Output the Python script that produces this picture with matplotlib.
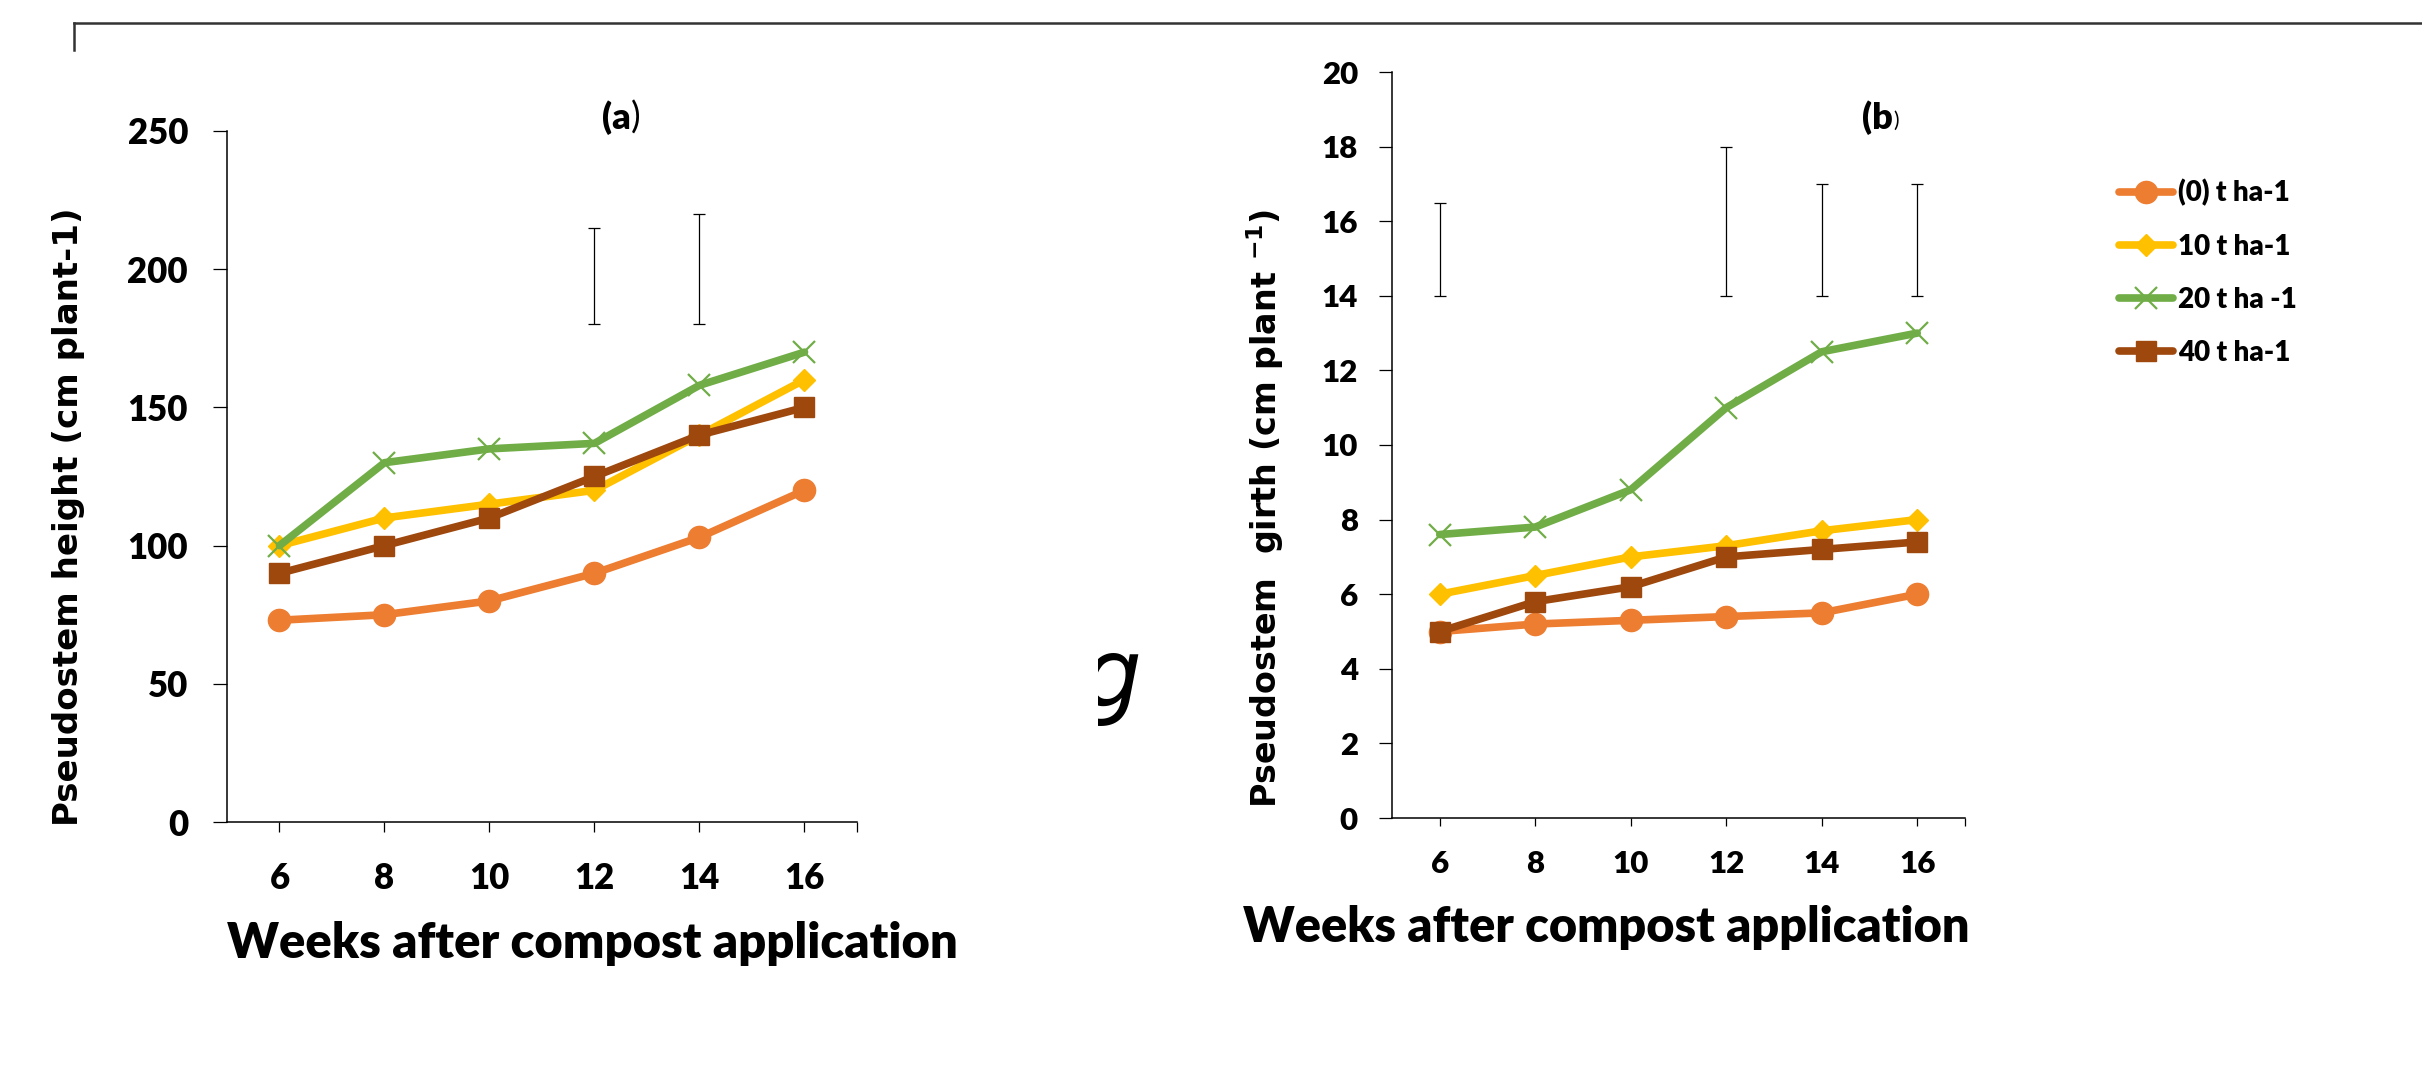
import matplotlib.pyplot as plt
from matplotlib.lines import Line2D
from matplotlib.transforms import Bbox, TransformedBbox

# Semaines et traitements
weeks = [6, 8, 10, 12, 14, 16]
labels = ['(0) t ha-1', '10 t ha-1', '20 t ha -1', '40 t ha-1']
colors = ['#ED7D31', '#FFC000', '#70AD47', '#9E480E']
markers = ['o', 'D', 'x', 's']
msizes = [16, 11, 16, 15]

# (a) hauteur du pseudo-tronc (cm)
height_0 = [73, 75, 80, 90, 103, 120]
height_10 = [100, 110, 115, 120, 140, 160]
height_20 = [100, 130, 135, 137, 158, 170]
height_40 = [90, 100, 110, 125, 140, 150]

# (b) circonférence du pseudo-tronc (cm)
girth_0 = [5.0, 5.2, 5.3, 5.4, 5.5, 6.0]
girth_10 = [6.0, 6.5, 7.0, 7.3, 7.7, 8.0]
girth_20 = [7.6, 7.8, 8.8, 11.0, 12.5, 13.0]
girth_40 = [5.0, 5.8, 6.2, 7.0, 7.2, 7.4]

# barres LSD
height_bar_weeks = [12, 14]
height_bar_low = [180, 180]
height_bar_high = [215, 220]
girth_bar_weeks = [6, 12, 14, 16]
girth_bar_low = [14, 14, 14, 14]
girth_bar_high = [16.5, 18, 17, 17]

W, H = 2422, 1078
plt.rcParams['font.family'] = 'Lato'
plt.rcParams['font.weight'] = 'heavy'

fig = plt.figure(figsize=(W / 100, H / 100), dpi=100)


def fx(px):
    return px / W


def fy(py):
    return 1 - py / H


def draw_panel(ax, series, bar_w, bar_lo, bar_hi, ylim, ystep, tsize, ylen, xlen, ypad, xpad):
    for vals, lab, c, m, ms in zip(series, labels, colors, markers, msizes):
        ax.plot(weeks, vals, color=c, lw=5.5, marker=m, ms=ms,
                mew=1.6 if m == 'x' else 1, mec=c, mfc=c,
                solid_capstyle='round', label=lab)
    up = [h - l for h, l in zip(bar_hi, bar_lo)]
    ax.errorbar(bar_w, bar_lo, yerr=[[0] * len(bar_w), up], fmt='none',
                ecolor='black', elinewidth=0.9, capsize=4, capthick=0.9)
    ax.set_xlim(5, 17)
    ax.set_ylim(*ylim)
    ax.set_xticks(weeks)
    ax.set_xticks([17], minor=True)
    ax.set_yticks(range(ylim[0], ylim[1] + 1, ystep))
    for s in ['top', 'right']:
        ax.spines[s].set_visible(False)
    for s in ['left', 'bottom']:
        ax.spines[s].set_linewidth(1.1)
    ax.tick_params(axis='y', direction='out', length=ylen, width=0.9,
                   labelsize=tsize, pad=ypad)
    ax.tick_params(axis='x', which='both', direction='out', length=xlen,
                   width=0.9, labelsize=tsize, pad=xpad)


ax1 = fig.add_axes([fx(227), fy(822), fx(857 - 227), (822 - 131) / H])
draw_panel(ax1, [height_0, height_10, height_20, height_40],
           height_bar_weeks, height_bar_low, height_bar_high,
           (0, 250), 50, 25, 10, 7, 18, 22)

ax2 = fig.add_axes([fx(1392), fy(818), fx(1965 - 1392), (818 - 72) / H])
draw_panel(ax2, [girth_0, girth_10, girth_20, girth_40],
           girth_bar_weeks, girth_bar_low, girth_bar_high,
           (0, 20), 2, 22.5, 9.5, 6, 15, 17)

# titres d'axes
fig.text(fx(592), fy(944), 'Weeks after compost application', fontsize=35.2,
         ha='center', va='center')
fig.text(fx(1606), fy(927), 'Weeks after compost application', fontsize=35,
         ha='center', va='center')
fig.text(fx(69), fy(517), 'Pseudostem height (cm plant-1)', family='DejaVu Sans',
         fontweight='bold', fontsize=24.5, rotation=90, ha='center', va='center')
fig.text(fx(1265), fy(508), r'Pseudostem  girth (cm plant $^{\mathbf{-1}}$)',
         family='DejaVu Sans', fontweight='bold', fontsize=24,
         rotation=90, ha='center', va='center')

# étiquettes (a) et (b)
fig.text(fx(631), fy(118), '(a', fontsize=26, ha='right', va='center')
fig.text(fx(631), fy(118), ')', fontsize=26, fontweight='normal', ha='left', va='center')
fig.text(fx(1893), fy(118), '(b', fontsize=26, ha='right', va='center')
fig.text(fx(1893), fy(121), ')', fontsize=15, fontweight='normal', ha='left', va='center')

# caractère parasite (rogné à gauche)
g = fig.text(fx(1142), fy(707), 'g', family='DejaVu Sans', fontstyle='italic',
             fontweight='normal', fontsize=68, ha='right', va='baseline')
g.set_clip_box(TransformedBbox(Bbox([[fx(1098), fy(745)], [fx(1160), fy(640)]]),
                               fig.transFigure))

# cadre en haut
fig.add_artist(Line2D([fx(74), 1], [fy(23), fy(23)], color='#333333', lw=1.8))
fig.add_artist(Line2D([fx(74), fx(74)], [fy(23), fy(50)], color='#333333', lw=1.8))

handles, labs = ax2.get_legend_handles_labels()
fig.legend(handles, labs, loc='upper left', bbox_to_anchor=(fx(2119), fy(179)),
           frameon=False, fontsize=20, borderaxespad=0, borderpad=0,
           labelspacing=0.98, handlelength=1.95, handletextpad=0.18)

fig.savefig('out.png', dpi=100)
